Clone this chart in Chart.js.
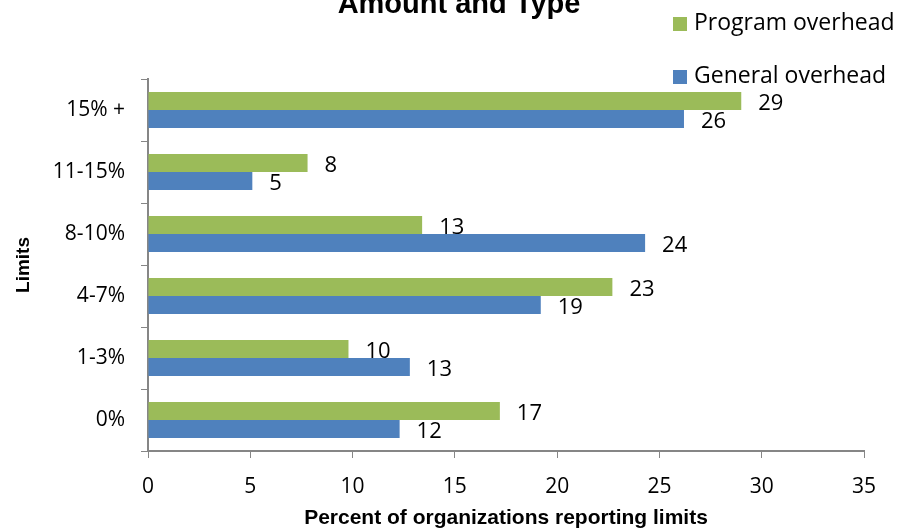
<!DOCTYPE html>
<html>
<head>
<meta charset="utf-8">
<script src="https://cdn.jsdelivr.net/npm/chart.js@4.4.1/dist/chart.umd.min.js"></script>
<style>
  html, body { margin: 0; padding: 0; background: #fff; }
  #wrap { width: 911px; height: 531px; }
</style>
</head>
<body>
<div id="wrap"><canvas id="limitsChart" width="911" height="531"></canvas></div>
<script>
// data
const limits = ['15% +', '11-15%', '8-10%', '4-7%', '1-3%', '0%'];
const programOverhead = [29.0, 7.8, 13.4, 22.7, 9.8, 17.2];
const generalOverhead = [26.2, 5.1, 24.3, 19.2, 12.8, 12.3];
const xTicks = [0, 5, 10, 15, 20, 25, 30, 35];

const labelFont = '"Open Sans", "Liberation Sans", sans-serif';
const boldFont = '"Liberation Sans", Arial, sans-serif';

// title partly cut off at the top edge, legend stacked top right, value labels
const extras = {
    id: 'extras',
    afterDatasetsDraw(chart) {
        const ctx = chart.ctx;
        ctx.save();
        ctx.fillStyle = '#000';
        ctx.textBaseline = 'middle';
        ctx.textAlign = 'left';
        ctx.font = '22px ' + labelFont;
        chart.data.datasets.forEach((ds, i) => {
            chart.getDatasetMeta(i).data.forEach((bar, j) => {
                ctx.fillText(Math.round(ds.data[j]), bar.x + 17, bar.y + 3);
            });
        });
        ctx.restore();
    },
    afterDraw(chart) {
        const ctx = chart.ctx;
        ctx.save();
        ctx.fillStyle = '#000';
        ctx.font = 'bold 29px ' + boldFont;
        ctx.textAlign = 'center';
        ctx.textBaseline = 'alphabetic';
        ctx.fillText('Amount and Type', 459, 13);

        ctx.font = '23px ' + labelFont;
        ctx.textAlign = 'left';
        ctx.textBaseline = 'middle';
        const rows = [23, 76];
        chart.data.datasets.forEach((ds, i) => {
            ctx.fillStyle = ds.backgroundColor;
            ctx.fillRect(673, rows[i] - 6, 14, 14);
            ctx.fillStyle = '#000';
            ctx.fillText(ds.label, 694, rows[i]);
        });
        ctx.restore();
    }
};

new Chart(document.getElementById('limitsChart'), {
    type: 'bar',
    data: {
        labels: limits,
        datasets: [{
            label: 'Program overhead',
            data: programOverhead,
            backgroundColor: '#9BBB59',
            categoryPercentage: 0.58,
            barPercentage: 1.0
        }, {
            label: 'General overhead',
            data: generalOverhead,
            backgroundColor: '#4F81BD',
            categoryPercentage: 0.58,
            barPercentage: 1.0
        }]
    },
    options: {
        indexAxis: 'y',
        responsive: false,
        animation: false,
        layout: { padding: { top: 79, right: 47, left: 0, bottom: 0 } },
        plugins: {
            legend: { display: false },
            tooltip: { enabled: false }
        },
        scales: {
            x: {
                min: 0,
                max: 35,
                afterBuildTicks: axis => { axis.ticks = xTicks.map(v => ({ value: v })); },
                afterFit: axis => { axis.height = 80; },
                border: { color: '#868686', width: 2 },
                grid: { drawOnChartArea: false, drawTicks: true, tickLength: 7, color: '#868686' },
                ticks: { color: '#000', padding: 16, font: { family: labelFont, size: 21 } },
                title: {
                    display: true,
                    text: 'Percent of organizations reporting limits',
                    color: '#000',
                    padding: { top: 6, bottom: 0 },
                    font: { family: boldFont, size: 21, weight: 'bold' }
                }
            },
            y: {
                afterFit: axis => { axis.width = 148; },
                border: { color: '#868686', width: 2 },
                grid: { drawOnChartArea: false, drawTicks: true, tickLength: 7, color: '#868686', offset: true },
                ticks: { color: '#000', padding: 16, font: { family: labelFont, size: 21 } },
                title: {
                    display: true,
                    text: 'Limits',
                    color: '#000',
                    padding: { top: 12, bottom: 0 },
                    font: { family: boldFont, size: 19, weight: 'bold' }
                }
            }
        }
    },
    plugins: [extras]
});
</script>
</body>
</html>
